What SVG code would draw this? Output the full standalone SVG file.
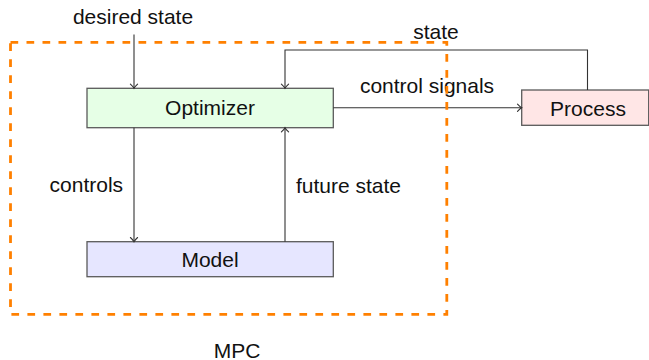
<svg xmlns="http://www.w3.org/2000/svg" width="649" height="360" viewBox="0 0 649 360">
  <style>
    .box { stroke: #5a5a5a; stroke-width: 1.3; }
    .lbl { font-family: "Liberation Sans", Arial, sans-serif; font-size: 21px; fill: #111; text-anchor: middle; }
    .wire { fill: none; stroke: #333; stroke-width: 1.1; }
    .mpc { fill: none; stroke: #ff8000; stroke-width: 2.8; stroke-dasharray: 7.7 8.3; }
  </style>
  <defs>
    <marker id="tip" viewBox="-6 -5 8 10" markerWidth="8" markerHeight="10" refX="0" refY="0" orient="auto" markerUnits="userSpaceOnUse">
      <path d="M -4.2,-3.6 Q -1.6,-0.8 0,0 Q -1.6,0.8 -4.2,3.6" fill="none" stroke="#333" stroke-width="1.1" stroke-linecap="round"/>
    </marker>
  </defs>

  <!-- nodes -->
  <g id="optimizer">
    <rect class="box" x="87" y="88.3" width="246.3" height="39.4" fill="#e6ffe6"/>
    <text class="lbl" x="210" y="115">Optimizer</text>
  </g>
  <g id="model">
    <rect class="box" x="87" y="241.7" width="246.3" height="35" fill="#e6e6ff"/>
    <text class="lbl" x="210" y="266.5">Model</text>
  </g>
  <g id="process">
    <rect class="box" x="521.7" y="90" width="127" height="35.3" fill="#ffe6e6"/>
    <text class="lbl" x="588" y="115.5">Process</text>
  </g>

  <!-- connectors -->
  <g id="connectors">
    <path class="wire" d="M 134,34.5 L 134,88.3" marker-end="url(#tip)"/>
    <path class="wire" d="M 587.5,90 L 587.5,50 L 285,50 L 285,88.3" marker-end="url(#tip)"/>
    <path class="wire" d="M 333.3,107.7 L 521.7,107.7" marker-end="url(#tip)"/>
    <path class="wire" d="M 134,127.7 L 134,241.7" marker-end="url(#tip)"/>
    <path class="wire" d="M 285,241.7 L 285,127.7" marker-end="url(#tip)"/>
    <text class="lbl" x="133" y="24">desired state</text>
    <text class="lbl" x="436" y="39">state</text>
    <text class="lbl" x="427" y="92.5">control signals</text>
    <text class="lbl" x="86.3" y="192.3">controls</text>
    <text class="lbl" x="348.5" y="193">future state</text>
  </g>

  <!-- MPC boundary -->
  <g id="mpc">
    <path class="mpc" d="M 10.5,42.3 L 446.8,42.3 L 446.8,314.3 L 10.5,314.3 Z"/>
    <text class="lbl" x="237" y="357.5">MPC</text>
  </g>
</svg>
